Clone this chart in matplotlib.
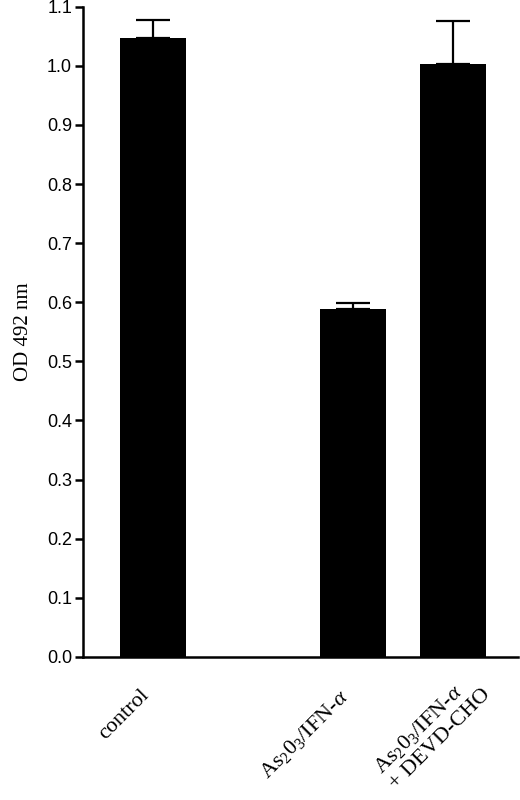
import matplotlib
matplotlib.use("Agg")
import matplotlib.pyplot as plt
import matplotlib.transforms as mtransforms

categories = ["control", r"As$_2$0$_3$/IFN-$\alpha$", "As$_2$0$_3$/IFN-$\\alpha$\n+ DEVD-CHO"]
positions = [0, 2, 3]
values = [1.047, 0.589, 1.003]
err_up = [0.031, 0.010, 0.073]
yticks = [0.0, 0.1, 0.2, 0.3, 0.4, 0.5, 0.6, 0.7, 0.8, 0.9, 1.0, 1.1]

plt.rcParams['mathtext.fontset'] = 'custom'
plt.rcParams['mathtext.rm'] = 'Liberation Serif'
plt.rcParams['mathtext.it'] = 'Liberation Serif:italic'

fig = plt.figure(figsize=(5.2, 8), dpi=100)
ax = fig.add_axes([0.16, 0.179, 0.836, 0.8125])

ax.bar(positions, values, width=0.66, color='black', zorder=2)
ax.errorbar(positions, values, yerr=[[0]*len(values), err_up], fmt='none',
            ecolor='black', elinewidth=1.6, capsize=12.5, capthick=1.6, zorder=3)

ax.set_xlim(-0.7, 3.65)
ax.set_ylim(0, 1.1)
ax.set_yticks(yticks)
ax.set_yticklabels([f"{t:.1f}" for t in yticks], family='Liberation Sans', fontsize=13)

ax.spines['top'].set_visible(False)
ax.spines['right'].set_visible(False)
ax.spines['left'].set_linewidth(1.8)
ax.spines['bottom'].set_linewidth(1.8)
ax.tick_params(axis='y', direction='out', length=6, width=1.8, pad=2)
ax.tick_params(axis='x', length=0, pad=21)
ax.set_xticks(positions)
labels = ax.set_xticklabels(categories, rotation=45, ha='right', va='top',
                            family='Liberation Serif', fontsize=16, multialignment='left')
offset = mtransforms.ScaledTranslation(0.42, 0.18, fig.dpi_scale_trans)
labels[2].set_transform(labels[2].get_transform() + offset)

ax.set_ylabel("OD 492 nm", family='Liberation Serif', fontsize=15, labelpad=10)

fig.savefig("out.png", dpi=100)
